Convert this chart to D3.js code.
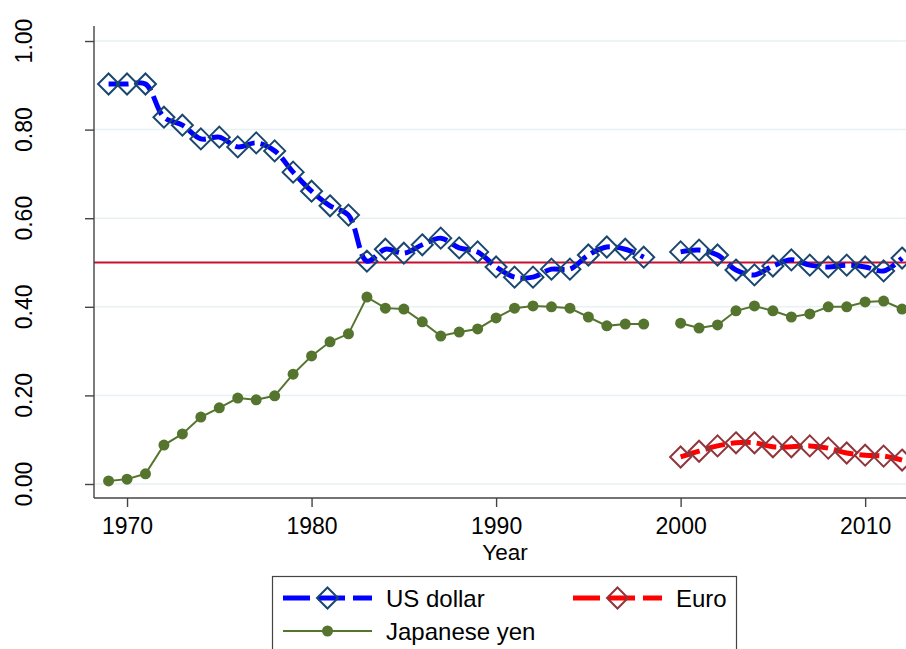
<!DOCTYPE html>
<html>
<head>
<meta charset="utf-8">
<script src="https://cdn.jsdelivr.net/npm/d3@7"></script>
<style>
  body { margin: 0; background: #fff; }
  svg { display: block; font-family: "Liberation Sans", Arial, sans-serif; }
</style>
</head>
<body>
<div id="chart"></div>
<script>
// currency shares by year, 1999 missing
var years = [1969,1970,1971,1972,1973,1974,1975,1976,1977,1978,1979,1980,1981,1982,1983,1984,1985,1986,1987,1988,1989,1990,
             1991,1992,1993,1994,1995,1996,1997,1998,1999,2000,2001,2002,2003,2004,2005,2006,2007,2008,2009,2010,2011,2012];
var usDollar = [0.903,0.903,0.903,0.828,0.810,0.779,0.783,0.761,0.770,0.752,0.704,0.661,0.628,0.607,0.503,0.530,0.521,0.540,0.555,0.533,0.524,0.490,
                0.467,0.467,0.485,0.485,0.517,0.535,0.530,0.512,null,0.524,0.528,0.517,0.483,0.472,0.492,0.506,0.494,0.490,0.494,0.490,0.481,0.510];
var yen = [0.007,0.011,0.023,0.088,0.113,0.151,0.172,0.194,0.190,0.199,0.248,0.289,0.321,0.339,0.422,0.397,0.395,0.366,0.334,0.343,0.350,0.375,
           0.397,0.402,0.400,0.397,0.377,0.357,0.361,0.361,null,0.363,0.352,0.359,0.391,0.402,0.391,0.377,0.384,0.400,0.400,0.411,0.413,0.395];
var euroYears = [2000,2001,2002,2003,2004,2005,2006,2007,2008,2009,2010,2011,2012];
var euro = [0.061,0.074,0.086,0.093,0.093,0.084,0.084,0.086,0.081,0.070,0.065,0.063,0.054];

var yTicks = [0, 0.2, 0.4, 0.6, 0.8, 1.0];
var xTicks = [1970, 1980, 1990, 2000, 2010];
var refLine = 0.5;

var W = 906, H = 649;

var svg = d3.select("#chart")
    .append("svg")
    .attr("width", W)
    .attr("height", H);

var x = d3.scaleLinear().domain([1968.21, 2012.43]).range([94, 910]);
var y = d3.scaleLinear().domain([-0.0316, 1.0339]).range([498, 26]);

// grid
svg.selectAll(".grid")
    .data(yTicks)
    .enter().append("line")
    .attr("class", "grid")
    .attr("x1", 94).attr("x2", W)
    .attr("y1", d => y(d)).attr("y2", d => y(d))
    .style("stroke", "#e8f1f3")
    .style("stroke-width", 1.5);

// reference line at 0.5
svg.append("line")
    .attr("x1", 94).attr("x2", W)
    .attr("y1", y(refLine)).attr("y2", y(refLine))
    .style("stroke", "#c8102e")
    .style("stroke-width", 2);

// axes
var yAxis = d3.axisLeft(y).tickValues(yTicks).tickSize(9).tickFormat(d3.format(".2f"));
var gy = svg.append("g").attr("transform", "translate(94,0)").call(yAxis);
gy.select(".domain").attr("d", "M0," + y.range()[1] + "V" + y.range()[0]);
gy.selectAll("text").remove();
gy.selectAll("path, line").style("stroke", "#444").style("stroke-width", 1.4);

svg.selectAll(".ylab")
    .data(yTicks)
    .enter().append("text")
    .attr("class", "ylab")
    .attr("transform", d => "translate(32," + y(d) + ") rotate(-90)")
    .attr("text-anchor", "middle")
    .style("font-size", "23px")
    .text(d => d3.format(".2f")(d));

var xAxis = d3.axisBottom(x).tickValues(xTicks).tickSize(9).tickFormat(d3.format("d"));
var gx = svg.append("g").attr("transform", "translate(0,498)").call(xAxis);
gx.select(".domain").attr("d", "M94,0H" + W);
gx.selectAll("path, line").style("stroke", "#444").style("stroke-width", 1.4);
gx.selectAll("text")
    .attr("y", 36).attr("dy", null)
    .style("font-size", "23px")
    .style("font-family", "Liberation Sans, Arial, sans-serif")
    .style("fill", "#000");

svg.append("text")
    .attr("x", 505).attr("y", 560)
    .attr("text-anchor", "middle")
    .style("font-size", "22.5px")
    .text("Year");

// series
var usdData = years.map((yr, i) => ({ yr: yr, v: usDollar[i] }));
var yenData = years.map((yr, i) => ({ yr: yr, v: yen[i] }));
var euroData = euroYears.map((yr, i) => ({ yr: yr, v: euro[i] }));

var smooth = d3.line()
    .defined(d => d.v != null)
    .x(d => x(d.yr)).y(d => y(d.v))
    .curve(d3.curveCatmullRom.alpha(0.5));

var straight = d3.line()
    .defined(d => d.v != null)
    .x(d => x(d.yr)).y(d => y(d.v));

function diamond(r) {
    return "M0," + (-r) + "L" + r + ",0L0," + r + "L" + (-r) + ",0Z";
}

var plot = svg.append("g");

// japanese yen
plot.append("path")
    .datum(yenData)
    .attr("d", straight)
    .style("fill", "none")
    .style("stroke", "#55752f")
    .style("stroke-width", 2);
plot.selectAll(".yen")
    .data(yenData.filter(d => d.v != null))
    .enter().append("circle")
    .attr("class", "yen")
    .attr("cx", d => x(d.yr)).attr("cy", d => y(d.v))
    .attr("r", 5.5)
    .style("fill", "#55752f");

// us dollar
plot.append("path")
    .datum(usdData)
    .attr("d", smooth)
    .style("fill", "none")
    .style("stroke", "#0000ff")
    .style("stroke-width", 5)
    .style("stroke-dasharray", "20,6");
plot.selectAll(".usd")
    .data(usdData.filter(d => d.v != null))
    .enter().append("path")
    .attr("class", "usd")
    .attr("transform", d => "translate(" + x(d.yr) + "," + y(d.v) + ")")
    .attr("d", diamond(10.5))
    .style("fill", "none")
    .style("stroke", "#1a476f")
    .style("stroke-width", 2);

// euro
plot.append("path")
    .datum(euroData)
    .attr("d", smooth)
    .style("fill", "none")
    .style("stroke", "#ff0000")
    .style("stroke-width", 5)
    .style("stroke-dasharray", "20,6");
plot.selectAll(".euro")
    .data(euroData)
    .enter().append("path")
    .attr("class", "euro")
    .attr("transform", d => "translate(" + x(d.yr) + "," + y(d.v) + ")")
    .attr("d", diamond(10.5))
    .style("fill", "none")
    .style("stroke", "#90353b")
    .style("stroke-width", 2);

// legend
var legend = svg.append("g");
legend.append("rect")
    .attr("x", 272.5).attr("y", 576.5)
    .attr("width", 464).attr("height", 100)
    .style("fill", "#fff")
    .style("stroke", "#444")
    .style("stroke-width", 1.2);

var legendItems = [
    { label: "US dollar", x0: 283, y0: 598, color: "#0000ff", mark: "#1a476f", kind: "diamond" },
    { label: "Euro", x0: 573, y0: 598, color: "#ff0000", mark: "#90353b", kind: "diamond" },
    { label: "Japanese yen", x0: 283, y0: 631, color: "#55752f", mark: "#55752f", kind: "dot" }
];

legendItems.forEach(function (d) {
    var g = legend.append("g");
    g.append("line")
        .attr("x1", d.x0).attr("x2", d.x0 + 89)
        .attr("y1", d.y0).attr("y2", d.y0)
        .style("stroke", d.color)
        .style("stroke-width", d.kind === "dot" ? 2 : 5)
        .style("stroke-dasharray", d.kind === "dot" ? null : "27,8");
    if (d.kind === "dot") {
        g.append("circle")
            .attr("cx", d.x0 + 44.5).attr("cy", d.y0).attr("r", 5.5)
            .style("fill", d.mark);
    } else {
        g.append("path")
            .attr("transform", "translate(" + (d.x0 + 44.5) + "," + d.y0 + ")")
            .attr("d", diamond(10.5))
            .style("fill", "none")
            .style("stroke", d.mark)
            .style("stroke-width", 2);
    }
    g.append("text")
        .attr("x", d.x0 + 103).attr("y", d.y0 + 9)
        .style("font-size", "24px")
        .text(d.label);
});
</script>
</body>
</html>
